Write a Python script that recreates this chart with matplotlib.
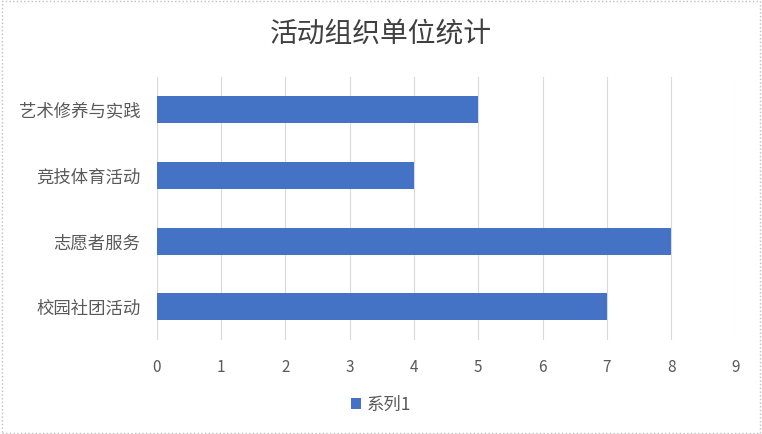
import matplotlib
matplotlib.use("Agg")
import matplotlib.pyplot as plt
from matplotlib.patches import Rectangle

plt.rcParams['font.family'] = ['Noto Sans CJK SC', 'DejaVu Sans']

categories = ["校园社团活动", "志愿者服务", "竞技体育活动", "艺术修养与实践"]
values = [7, 8, 4, 5]
series_name = "系列1"
title = "活动组织单位统计"
xticks = list(range(0, 10))

fig = plt.figure(figsize=(7.62, 4.34), dpi=100)
ax = fig.add_axes([0.206, 0.217, 0.759, 0.606])
bar_color = "#4472C4"
ax.barh(range(len(categories)), values, height=0.41, color=bar_color, label=series_name, zorder=3)
ax.set_xlim(0, 9)
ax.set_ylim(-0.5, len(categories) - 0.5)
ax.set_xticks(xticks)
ax.set_yticks(range(len(categories)))
ax.set_yticklabels(categories, fontsize=12.5)
ax.grid(axis='x', color="#D9D9D9", linewidth=0.8, zorder=0)
for s in ax.spines.values():
    s.set_visible(False)
ax.tick_params(axis='both', length=0, colors="#595959")
ax.tick_params(axis='x', pad=14, labelsize=11)
ax.tick_params(axis='y', pad=12)
fig.suptitle(title, y=0.955, fontsize=20, color="#404040")
fig.legend(loc='center', bbox_to_anchor=(0.5, 0.067), frameon=False, fontsize=12.5,
           handlelength=0.6, handleheight=0.6, handletextpad=0.3, labelcolor="#595959")
fig.patches.append(Rectangle((0.002, 0.003), 0.996, 0.994, transform=fig.transFigure,
                             fill=False, edgecolor="#BFBFBF", linewidth=1, linestyle=':'))
fig.savefig("out.png", dpi=100)
